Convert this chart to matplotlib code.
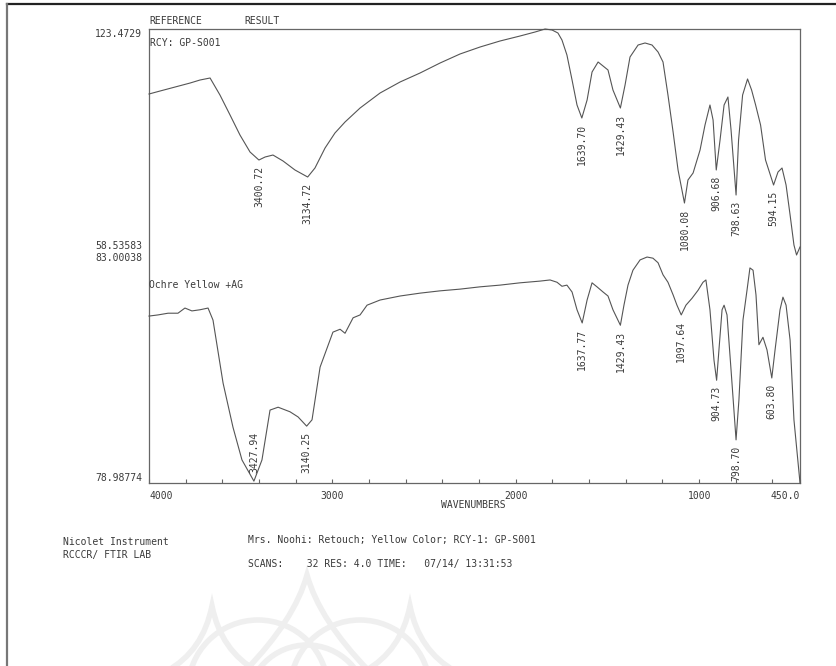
import numpy as np
import matplotlib.pyplot as plt
from matplotlib.path import Path
from matplotlib.patches import PathPatch, Arc

# upper spectrum (RCY: GP-S001)
top_wn = [4000, 3940, 3858, 3776, 3722, 3667, 3613, 3558, 3504, 3449, 3400.72, 3367, 3324, 3269,
          3204, 3134.72, 3095, 3040, 2986, 2931, 2849, 2740, 2631, 2522, 2413, 2304, 2195, 2086,
          1977, 1895, 1840, 1802, 1770, 1748, 1721, 1693, 1666, 1639.70, 1611, 1584, 1551, 1524,
          1497, 1470, 1429.43, 1404, 1377, 1333, 1295, 1257, 1224, 1197, 1170, 1142, 1115, 1080.08,
          1061, 1033, 995, 968, 941, 924, 906.68, 886, 864, 843, 826, 798.63, 785, 763, 736, 714,
          692, 665, 638, 594.15, 570, 548, 526, 504, 483, 468.78, 450]
top_t = [104.46, 105.33, 106.50, 107.67, 108.55, 109.14, 104.16, 98.31, 92.47, 87.49, 85.15, 86.03,
         86.61, 84.86, 82.23, 80.18, 82.81, 88.66, 93.05, 96.27, 100.36, 104.75, 107.97, 110.60,
         113.52, 116.16, 118.20, 119.96, 121.42, 122.59, 123.47, 123.18, 122.30, 120.25, 115.87,
         108.55, 101.24, 97.44, 102.70, 110.89, 113.82, 112.65, 111.48, 105.63, 100.36, 107.09,
         115.28, 118.79, 119.38, 118.79, 116.74, 113.82, 104.16, 93.34, 82.23, 72.57, 79.30, 81.35,
         88.08, 95.39, 101.24, 96.85, 82.23, 91.0, 101.24, 103.58, 93.93, 74.91, 91.0, 104.16,
         108.85, 105.63, 101.24, 95.39, 85.15, 77.84, 81.64, 82.81, 77.84, 69.06, 60.29, 57.37, 59.71]
top_peaks = [3400.72, 3134.72, 1639.70, 1429.43, 1080.08, 906.68, 798.63, 594.15, 468.78]
top_range = (58.53583, 123.4729)

# lower spectrum (Ochre Yellow +AG)
bot_wn = [4000, 3951, 3896, 3842, 3804, 3766, 3722, 3678, 3651, 3596, 3542, 3493, 3427.94, 3384,
          3340, 3296, 3231, 3187, 3140.25, 3111, 3067, 2997, 2958, 2931, 2887, 2849, 2811, 2740,
          2631, 2522, 2413, 2304, 2195, 2086, 1977, 1868, 1813, 1775, 1748, 1721, 1693, 1666,
          1637.77, 1611, 1584, 1557, 1524, 1497, 1470, 1429.43, 1410, 1388, 1361, 1322, 1284, 1252,
          1224, 1197, 1170, 1142, 1121, 1097.64, 1072, 1039, 1006, 979, 963, 941, 919, 904.73, 892,
          875, 864, 848, 826, 798.70, 783, 761, 739, 723, 706, 690, 674, 652, 630, 603.80, 586, 559,
          543, 526, 504, 483, 450]
bot_t = [81.90, 81.92, 81.95, 81.95, 82.04, 81.99, 82.01, 82.04, 81.83, 80.73, 79.96, 79.39, 79.02,
         79.39, 80.26, 80.31, 80.23, 80.14, 79.98, 80.09, 81.01, 81.62, 81.67, 81.60, 81.87, 81.92,
         82.09, 82.18, 82.25, 82.30, 82.34, 82.37, 82.41, 82.44, 82.48, 82.51, 82.53, 82.49, 82.42,
         82.44, 82.32, 82.01, 81.78, 82.18, 82.48, 82.41, 82.32, 82.25, 82.01, 81.74, 82.09, 82.44,
         82.70, 82.88, 82.93, 82.91, 82.83, 82.62, 82.49, 82.27, 82.09, 81.92, 82.09, 82.21, 82.35,
         82.49, 82.53, 82.01, 81.13, 80.78, 81.31, 82.01, 82.09, 81.92, 80.96, 79.74, 80.44, 81.83,
         82.35, 82.74, 82.70, 82.27, 81.40, 81.53, 81.31, 80.82, 81.31, 82.01, 82.23, 82.09, 81.48,
         80.09, 78.99]
bot_peaks = [3427.94, 3140.25, 1637.77, 1429.43, 1097.64, 904.73, 798.70, 603.80]
bot_range = (78.98774, 83.00038)

# labels placed above the dip instead of below it
above = {468.78, 3427.94}

x_ticks = list(range(4000, 450, -200)) + [450]
x_labels = {4000: '4000', 3000: '3000', 2000: '2000', 1000: '1000', 450: '450.0'}

W, H = 836, 666
ink = '#3a3a3a'
line_c = '#555555'
plt.rcParams['font.family'] = ['DejaVu Sans Mono']
plt.rcParams['font.size'] = 7


def box(x0, y0, x1, y1):
    return [x0 / W, 1 - y1 / H, (x1 - x0) / W, (y1 - y0) / H]


fig = plt.figure(figsize=(W / 100, H / 100), dpi=100)

# page decoration: border + faint watermark
deco = fig.add_axes([0, 0, 1, 1], zorder=-5)
deco.set_xlim(0, W)
deco.set_ylim(H, 0)
deco.axis('off')
deco.plot([7, W], [4, 4], color='#222222', lw=1.6)
deco.plot([7, 7], [4, H], color='#777777', lw=1.6)
wm = '#efefef'
for (sx, sy, w) in [(307, 575, 62), (212, 606, 45), (410, 606, 45)]:
    verts = [(sx - w, H + 5), (sx - w * 0.2, sy + 45), (sx, sy),
             (sx + w * 0.2, sy + 45), (sx + w, H + 5)]
    codes = [Path.MOVETO, Path.CURVE3, Path.CURVE3, Path.CURVE3, Path.CURVE3]
    deco.add_patch(PathPatch(Path(verts, codes), fill=False, ec=wm, lw=4))
for (cx, cy, r) in [(258, 690, 70), (360, 690, 70), (307, 705, 60)]:
    deco.add_patch(Arc((cx, cy), 2 * r, 2 * r, theta1=180, theta2=360, color=wm, lw=4))

# frame
frame = fig.add_axes(box(149, 29, 800, 483))
frame.set_facecolor('none')
frame.set_xlim(4000, 450)
frame.set_ylim(0, 1)
for s in frame.spines.values():
    s.set_color('#666666')
    s.set_linewidth(0.9)
frame.set_yticks([])
frame.set_xticks(x_ticks)
frame.set_xticklabels([x_labels.get(t, '') for t in x_ticks])
frame.tick_params(axis='x', direction='in', length=3, width=0.8, color='#666666',
                  pad=6, labelcolor=ink)
for t, lbl in zip(x_ticks, frame.get_xticklabels()):
    if t == 4000:
        lbl.set_ha('left')
    elif t == 450:
        lbl.set_ha('right')
frame.annotate('WAVENUMBERS', xy=(2000, 0), xycoords=('data', 'axes fraction'),
               xytext=(-7, -16), textcoords='offset points', ha='right', va='center', color=ink)
frame.annotate('REFERENCE', xy=(0, 1), xycoords='axes fraction', xytext=(0, 6),
               textcoords='offset points', ha='left', va='center', color=ink)
frame.annotate('RESULT', xy=(0, 1), xycoords='axes fraction', xytext=(69, 6),
               textcoords='offset points', ha='left', va='center', color=ink)
frame.annotate('RCY: GP-S001', xy=(0, 1), xycoords='axes fraction', xytext=(1, -10),
               textcoords='offset points', ha='left', va='center', color=ink)

axes = []
for rect, wn, t, peaks, yr, name in [
        (box(149, 29, 800, 251), top_wn, top_t, top_peaks, top_range, None),
        (box(149, 253, 800, 483), bot_wn, bot_t, bot_peaks, bot_range, 'Ochre Yellow +AG')]:
    ax = fig.add_axes(rect)
    ax.set_facecolor('none')
    for s in ax.spines.values():
        s.set_visible(False)
    ax.set_xlim(4000, 450)
    ax.set_ylim(*yr)
    ax.set_xticks([])
    ax.set_yticks(list(yr))
    ax.set_yticklabels(['{:.8g}'.format(v) if v != 123.4729 else '123.4729' for v in yr])
    ax.tick_params(axis='y', length=0, pad=5, labelcolor=ink)
    ylbls = ax.get_yticklabels()
    ylbls[0].set_va('bottom')
    ylbls[1].set_va('top')
    ax.plot(wn, t, color=line_c, lw=0.8, clip_on=False)
    wn_a = np.array(wn)
    t_a = np.array(t)
    for p in peaks:
        yv = t_a[np.isclose(wn_a, p)][0]
        if p in above:
            ax.annotate('{:.2f}'.format(p), xy=(p, yv), xytext=(0, 6), textcoords='offset points',
                        rotation=90, ha='center', va='bottom', color=ink)
        else:
            ax.annotate('{:.2f}'.format(p), xy=(p, yv), xytext=(0, -4), textcoords='offset points',
                        rotation=90, ha='center', va='top', color=ink)
    if name:
        ax.annotate(name, xy=(0, 1), xycoords='axes fraction', xytext=(0, -23),
                    textcoords='offset points', ha='left', va='center', color=ink)
    axes.append(ax)

fig.text(63 / W, 1 - 542 / H, 'Nicolet Instrument', va='center', color=ink)
fig.text(63 / W, 1 - 555 / H, 'RCCCR/ FTIR LAB', va='center', color=ink)
fig.text(248 / W, 1 - 540 / H, 'Mrs. Noohi: Retouch; Yellow Color; RCY-1: GP-S001', va='center', color=ink)
fig.text(248 / W, 1 - 564 / H, 'SCANS:    32 RES: 4.0 TIME:   07/14/ 13:31:53', va='center', color=ink)

fig.savefig('out.png', dpi=100)
